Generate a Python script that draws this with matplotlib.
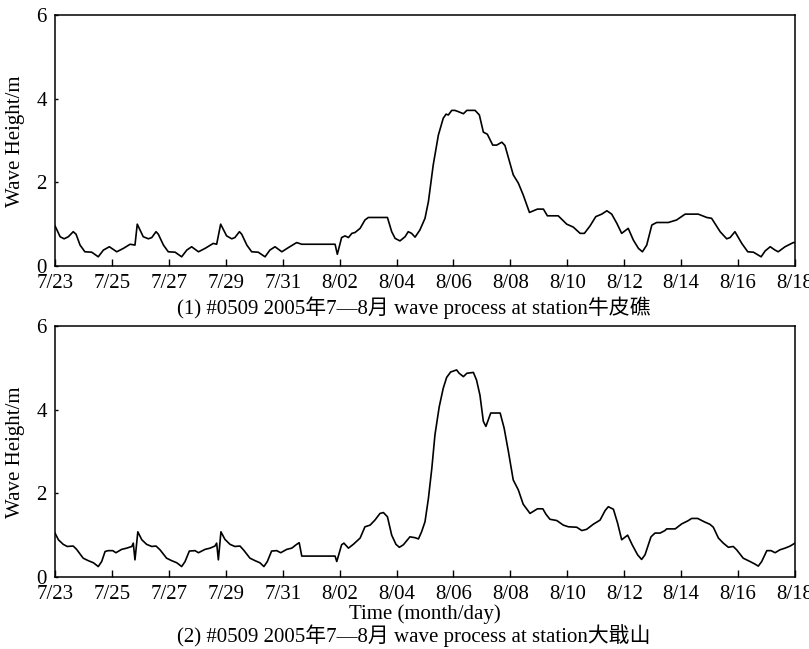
import matplotlib
matplotlib.use("Agg")
import matplotlib.pyplot as plt

plt.rcParams['font.family'] = ['Liberation Serif', 'Noto Sans CJK SC', 'DejaVu Sans']

# days since 7/23 00:00
tick_pos = [0, 2, 4, 6, 8, 10, 12, 14, 16, 18, 20, 22, 24, 26]
tick_labels = ["7/23", "7/25", "7/27", "7/29", "7/31", "8/02", "8/04", "8/06",
               "8/08", "8/10", "8/12", "8/14", "8/16", "8/18"]
y_ticks = [0, 2, 4, 6]

t1 = [0.00, 0.18, 0.32, 0.47, 0.64, 0.74, 0.88, 1.05, 1.29, 1.52, 1.70, 1.91, 2.17, 2.40,
      2.64, 2.81, 2.89, 3.10, 3.28, 3.40, 3.55, 3.63, 3.81, 3.98, 4.22, 4.45, 4.63, 4.80,
      5.04, 5.27, 5.56, 5.68, 5.82, 6.03, 6.21, 6.32, 6.48, 6.56, 6.74, 6.91, 7.14, 7.38,
      7.55, 7.73, 7.97, 8.20, 8.49, 8.67, 9.84, 9.92, 10.07, 10.19, 10.31, 10.43, 10.54,
      10.72, 10.89, 11.01, 11.68, 11.83, 11.95, 12.12, 12.30, 12.41, 12.53, 12.65, 12.82,
      13.00, 13.12, 13.29, 13.47, 13.64, 13.74, 13.82, 13.94, 14.05, 14.17, 14.35, 14.47,
      14.76, 14.91, 15.05, 15.19, 15.38, 15.52, 15.70, 15.81, 16.10, 16.28, 16.45, 16.67,
      16.81, 16.95, 17.16, 17.30, 17.68, 17.98, 18.21, 18.45, 18.60, 18.80, 19.00, 19.21,
      19.39, 19.56, 19.74, 19.91, 20.14, 20.32, 20.50, 20.64, 20.79, 20.97, 21.14, 21.55,
      21.84, 22.14, 22.60, 22.90, 23.07, 23.37, 23.60, 23.72, 23.89, 24.13, 24.34, 24.54,
      24.81, 24.95, 25.13, 25.30, 25.41, 25.65, 25.94, 26.00]
h1 = [0.96, 0.70, 0.65, 0.70, 0.82, 0.76, 0.50, 0.34, 0.33, 0.22, 0.38, 0.46, 0.34, 0.42,
      0.52, 0.50, 1.00, 0.70, 0.65, 0.68, 0.82, 0.76, 0.50, 0.34, 0.33, 0.22, 0.38, 0.46,
      0.34, 0.42, 0.54, 0.52, 1.00, 0.72, 0.65, 0.68, 0.82, 0.76, 0.50, 0.34, 0.33, 0.22,
      0.38, 0.46, 0.34, 0.44, 0.56, 0.52, 0.52, 0.28, 0.68, 0.72, 0.68, 0.78, 0.80,
      0.90, 1.10, 1.16, 1.16, 0.82, 0.66, 0.60, 0.70, 0.82, 0.78, 0.69, 0.86,
      1.14, 1.54, 2.42, 3.13, 3.53, 3.63, 3.61, 3.72, 3.72, 3.69, 3.64, 3.72,
      3.72, 3.61, 3.20, 3.15, 2.89, 2.89, 2.96, 2.88, 2.18, 1.98, 1.70, 1.28,
      1.32, 1.36, 1.36, 1.20, 1.20, 1.00, 0.93, 0.78, 0.78, 0.96, 1.18, 1.24,
      1.32, 1.24, 1.02, 0.78, 0.90, 0.62, 0.42, 0.34, 0.50, 0.98, 1.04, 1.04,
      1.10, 1.24, 1.24, 1.16, 1.14, 0.82, 0.65, 0.68, 0.82, 0.54, 0.34, 0.33,
      0.22, 0.36, 0.46, 0.38, 0.34, 0.46, 0.56, 0.56]

t2 = [0.00, 0.12, 0.29, 0.43, 0.64, 0.76, 0.99, 1.17, 1.35, 1.52, 1.64, 1.76, 1.87, 2.03,
      2.14, 2.34, 2.52, 2.70, 2.75, 2.81, 2.91, 3.05, 3.22, 3.40, 3.55, 3.69, 3.92, 4.10,
      4.28, 4.45, 4.57, 4.72, 4.92, 5.04, 5.27, 5.45, 5.62, 5.68, 5.74, 5.83, 5.97, 6.15,
      6.32, 6.50, 6.62, 6.85, 7.03, 7.20, 7.34, 7.46, 7.61, 7.79, 7.93, 8.14, 8.32, 8.49,
      8.58, 8.67, 9.84, 9.90, 10.07, 10.15, 10.31, 10.48, 10.72, 10.89, 11.07, 11.24,
      11.42, 11.54, 11.68, 11.83, 11.98, 12.10, 12.24, 12.47, 12.65, 12.77, 12.88, 13.00,
      13.12, 13.24, 13.35, 13.50, 13.64, 13.76, 13.90, 14.11, 14.20, 14.35, 14.47, 14.70,
      14.81, 14.93, 15.05, 15.14, 15.31, 15.64, 15.78, 15.93, 16.10, 16.28, 16.45, 16.69,
      16.95, 17.14, 17.25, 17.39, 17.63, 17.86, 18.04, 18.33, 18.51, 18.68, 18.91, 19.15,
      19.33, 19.44, 19.62, 19.77, 19.91, 20.12, 20.28, 20.47, 20.61, 20.73, 20.94, 21.08,
      21.26, 21.43, 21.49, 21.79, 22.02, 22.23, 22.37, 22.58, 22.81, 23.01, 23.13, 23.31,
      23.48, 23.66, 23.83, 23.95, 24.18, 24.42, 24.59, 24.71, 24.83, 25.01, 25.16, 25.30,
      25.47, 25.65, 25.83, 26.00]
h2 = [1.05, 0.89, 0.78, 0.73, 0.74, 0.66, 0.45, 0.39, 0.34, 0.25, 0.37, 0.61, 0.63, 0.63,
      0.58, 0.66, 0.69, 0.73, 0.81, 0.41, 1.08, 0.89, 0.78, 0.73, 0.74, 0.65, 0.45, 0.39,
      0.34, 0.25, 0.37, 0.62, 0.63, 0.58, 0.66, 0.69, 0.74, 0.81, 0.41, 1.08, 0.90, 0.78,
      0.73, 0.74, 0.65, 0.45, 0.39, 0.34, 0.25, 0.37, 0.62, 0.63, 0.58, 0.66, 0.69, 0.78,
      0.82, 0.50, 0.50, 0.37, 0.77, 0.81, 0.69, 0.78, 0.93, 1.20, 1.24, 1.36,
      1.52, 1.54, 1.44, 1.00, 0.78, 0.71, 0.77, 0.96, 0.94, 0.91, 1.08, 1.32,
      1.88, 2.60, 3.40, 4.07, 4.51, 4.77, 4.90, 4.95, 4.87, 4.79, 4.87, 4.89,
      4.71, 4.35, 3.72, 3.60, 3.92, 3.92, 3.56, 3.00, 2.32, 2.08, 1.74, 1.52,
      1.63, 1.63, 1.50, 1.38, 1.35, 1.24, 1.20, 1.19, 1.11, 1.14, 1.26, 1.36,
      1.59, 1.68, 1.62, 1.28, 0.89, 1.00, 0.77, 0.53, 0.42, 0.53, 0.96, 1.05,
      1.05, 1.11, 1.15, 1.15, 1.27, 1.34, 1.40, 1.40, 1.32, 1.26, 1.19, 0.93,
      0.81, 0.71, 0.73, 0.65, 0.45, 0.37, 0.31, 0.26, 0.37, 0.63, 0.63, 0.58,
      0.65, 0.69, 0.74, 0.81]

caption1 = "(1) #0509 2005年7—8月 wave process at station牛皮礁"
caption2 = "(2) #0509 2005年7—8月 wave process at station大戢山"
ylabel = "Wave Height/m"
xlabel = "Time (month/day)"

W, H = 809, 649
fig = plt.figure(figsize=(W / 100, H / 100), dpi=100)

def px_rect(l, t, r, b):
    return [l / W, 1 - b / H, (r - l) / W, (b - t) / H]

ax1 = fig.add_axes(px_rect(55, 15, 795, 266))
ax2 = fig.add_axes(px_rect(55, 326, 795, 577))

fs = 15
for ax, t, h, ymid in ((ax1, t1, h1, 141), (ax2, t2, h2, 452)):
    ax.plot(t, h, color='black', linewidth=1.2)
    ax.set_xlim(0, 26)
    ax.set_ylim(0, 6)
    ax.set_xticks(tick_pos)
    ax.set_xticklabels(tick_labels)
    ax.set_yticks(y_ticks)
    ax.tick_params(axis='x', direction='in', length=5, width=1.0, pad=5.5,
                   labelsize=fs, top=False)
    ax.tick_params(axis='y', direction='in', length=2.5, width=1.0, pad=6,
                   labelsize=fs, right=False)
    for s in ax.spines.values():
        s.set_linewidth(1.1)
    fig.text(16 / W, 1 - ymid / H, ylabel, rotation=90, ha='center', va='center',
             fontsize=fs)

fig.text(414 / W, 1 - 308 / H, caption1, ha='center', va='center', fontsize=fs)
fig.text(425 / W, 1 - 614 / H, xlabel, ha='center', va='center', fontsize=fs)
fig.text(414 / W, 1 - 636 / H, caption2, ha='center', va='center', fontsize=fs)

fig.savefig("out.png", dpi=100)
